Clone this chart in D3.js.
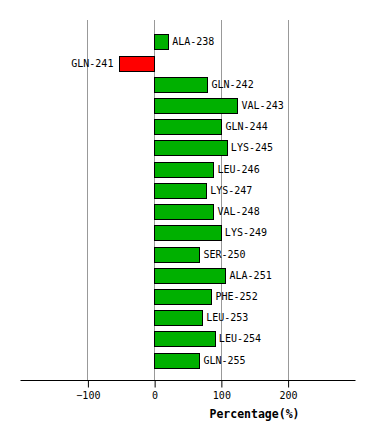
<!DOCTYPE html>
<html><head><meta charset="utf-8">
<script src="https://cdn.jsdelivr.net/npm/d3@7/dist/d3.min.js"></script>
<style>body{margin:0;background:#fff}svg{display:block}</style>
</head><body><svg id="c" width="374" height="440"></svg>
<script>
const residues = ["ALA-238","GLN-241","GLN-242","VAL-243","GLN-244","LYS-245","LEU-246","LYS-247","VAL-248","LYS-249","SER-250","ALA-251","PHE-252","LEU-253","LEU-254","GLN-255"];
const percentages = [21, -52, 80, 125, 101, 109, 89, 78, 89, 100, 68, 107, 86, 72, 91, 68];
const tickValues = [-100, 0, 100, 200];
const axisTitle = "Percentage(%)";

const svg = d3.select("#c");
const x = d3.scaleLinear().domain([-201, 301]).range([20, 355]);
const y = d3.scaleBand().domain(residues).range([31.3, 370.7]).paddingInner(0.29).paddingOuter(0.145);
const axisY = 380.5;
const font = "'DejaVu Sans Mono', monospace";

// grid
svg.append("g").selectAll("line").data(tickValues).join("line")
  .attr("x1", d => Math.round(x(d)) + 0.5).attr("x2", d => Math.round(x(d)) + 0.5)
  .attr("y1", 20).attr("y2", axisY)
  .attr("stroke", "#999").attr("stroke-width", 1);

// bars
svg.append("g").selectAll("rect").data(residues).join("rect")
  .attr("x", (d, i) => Math.round(x(Math.min(0, percentages[i]))) + 0.5)
  .attr("y", d => Math.round(y(d)) + 0.5)
  .attr("width", (d, i) => Math.round(Math.abs(x(percentages[i]) - x(0))))
  .attr("height", Math.round(y.bandwidth()))
  .attr("fill", (d, i) => percentages[i] < 0 ? "#ff0000" : "#00b000")
  .attr("stroke", "#000").attr("stroke-width", 1);

// labels
svg.append("g").selectAll("text").data(residues).join("text")
  .attr("x", (d, i) => percentages[i] < 0 ? x(percentages[i]) - 6 : x(percentages[i]) + 4)
  .attr("y", d => y(d) + y.bandwidth() / 2)
  .attr("dy", "0.35em")
  .attr("text-anchor", (d, i) => percentages[i] < 0 ? "end" : "start")
  .attr("font-family", font).attr("font-size", "10px").attr("fill", "#000")
  .text(d => d);

// axis
const axis = d3.axisBottom(x).tickValues(tickValues).tickSize(7).tickPadding(4).tickFormat(d3.format("d"));
const ag = svg.append("g").attr("transform", `translate(0.5,${axisY})`).call(axis);
ag.select(".domain").attr("d", `M${x(-201)},0H${x(301)}`).attr("stroke", "#000");
ag.selectAll(".tick line").attr("stroke", "#000");
ag.selectAll(".tick text").attr("font-family", font).attr("font-size", "10px").attr("fill", "#000");

svg.append("text").attr("x", 254.5).attr("y", 418)
  .attr("text-anchor", "middle").attr("font-family", font)
  .attr("font-size", "11.5px").attr("font-weight", "bold").attr("fill", "#000")
  .text(axisTitle);
</script></body></html>
